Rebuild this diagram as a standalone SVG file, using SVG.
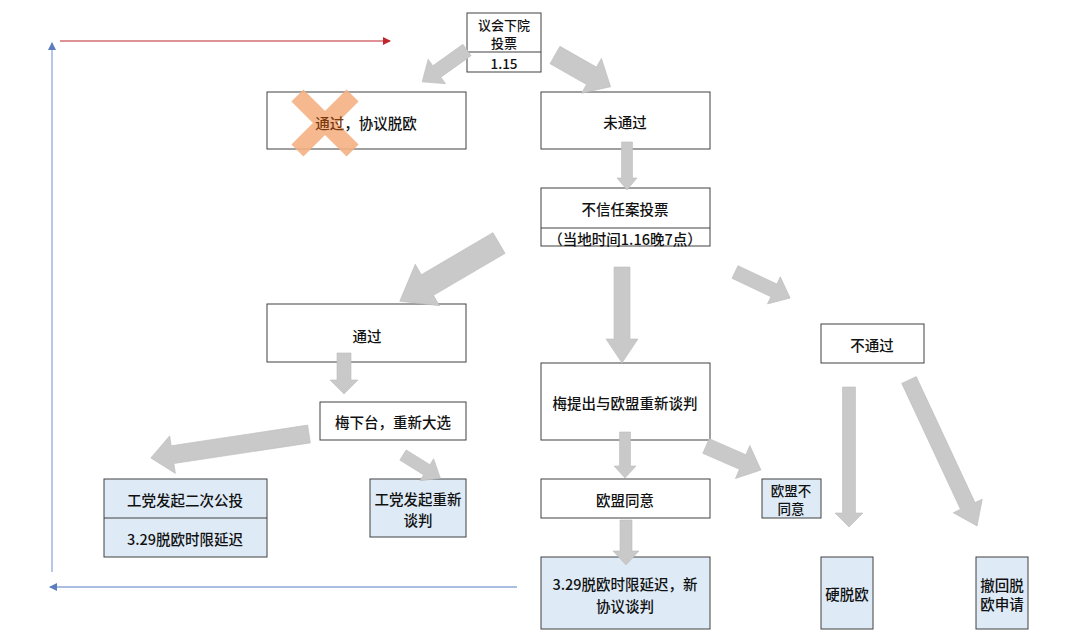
<svg xmlns="http://www.w3.org/2000/svg" width="1080" height="643" viewBox="0 0 1080 643">
<style>
.box{fill:#ffffff;stroke:#404040;stroke-width:1}
.blue{fill:#DEEBF7;stroke:#404040;stroke-width:1}
.div{stroke:#404040;stroke-width:1}
text{font-family:"Noto Sans CJK SC","Liberation Sans",sans-serif;font-size:14.5px;font-weight:500;fill:#111;text-anchor:middle;dominant-baseline:central}
text.sm{font-size:13.5px}
text.xs{font-size:13px}
.ba polygon{fill:#C9C9C9;stroke:#BDBDBD;stroke-width:0.6}
</style>
<defs>
<marker id="mRed" markerWidth="8" markerHeight="8" refX="7" refY="4" orient="auto" markerUnits="userSpaceOnUse">
<path d="M0,0 L8,4 L0,8 Z" fill="#C0272D"/>
</marker>
<marker id="mBlue" markerWidth="8" markerHeight="8" refX="7" refY="4" orient="auto" markerUnits="userSpaceOnUse">
<path d="M0,0 L8,4 L0,8 Z" fill="#5A7DBE"/>
</marker>
</defs>
<rect width="1080" height="643" fill="#ffffff"/>

<g id="lines">
<line x1="60" y1="41" x2="390" y2="41" stroke="#C0272D" stroke-width="1.2" marker-end="url(#mRed)"/>
<line x1="52" y1="572" x2="52" y2="43" stroke="#8EA9DB" stroke-width="1.3" marker-end="url(#mBlue)"/>
<line x1="517" y1="587" x2="50" y2="587" stroke="#8EA9DB" stroke-width="1.3" marker-end="url(#mBlue)"/>
</g>

<g id="n-vote">
<rect class="box" x="467" y="13" width="74" height="59"/>
<line class="div" x1="467" y1="52" x2="541" y2="52"/>
<text class="xs" x="504" y="24.5">议会下院</text>
<text class="xs" x="504" y="42">投票</text>
<text class="sm" x="504" y="62.5">1.15</text>
</g>

<g id="n-pass-deal">
<rect class="box" x="267" y="92" width="199" height="57"/>
<g fill="#F4B183" opacity="0.9">
<rect x="286" y="114.5" width="78" height="17" transform="rotate(45 325 123)"/>
<rect x="286" y="114.5" width="78" height="17" transform="rotate(-45 325 123)"/>
</g>
<text x="366" y="122"><tspan fill="#7A3A10">通过</tspan>，协议脱欧</text>
</g>

<g id="n-fail">
<rect class="box" x="541" y="92" width="169" height="57"/>
<text x="625" y="121">未通过</text>
</g>

<g id="n-noconf">
<rect class="box" x="541" y="188" width="169" height="58"/>
<line class="div" x1="541" y1="228" x2="710" y2="228"/>
<text x="625" y="208">不信任案投票</text>
<text x="625" y="238">（当地时间1.16晚7点）</text>
</g>

<g id="n-pass2">
<rect class="box" x="267" y="304" width="199" height="58"/>
<text x="367" y="335">通过</text>
</g>

<g id="n-resign">
<rect class="box" x="320" y="402" width="146" height="38"/>
<text x="393" y="421">梅下台，重新大选</text>
</g>

<g id="n-labour-ref">
<rect class="blue" x="104" y="479" width="163" height="78"/>
<line class="div" x1="104" y1="518" x2="267" y2="518"/>
<text x="185" y="499">工党发起二次公投</text>
<text x="185" y="538">3.29脱欧时限延迟</text>
</g>

<g id="n-labour-neg">
<rect class="blue" x="370" y="479" width="96" height="58"/>
<text x="418" y="498">工党发起重新</text>
<text x="418" y="519">谈判</text>
</g>

<g id="n-renego">
<rect class="box" x="541" y="363" width="169" height="77"/>
<text x="625" y="402">梅提出与欧盟重新谈判</text>
</g>

<g id="n-eu-agree">
<rect class="box" x="541" y="479" width="169" height="39"/>
<text x="625" y="499">欧盟同意</text>
</g>

<g id="n-delay">
<rect class="blue" x="541" y="557" width="169" height="72"/>
<text x="625" y="583">3.29脱欧时限延迟，新</text>
<text x="625" y="605">协议谈判</text>
</g>

<g id="n-eu-disagree">
<rect class="blue" x="762" y="479" width="59" height="39"/>
<text class="sm" x="791" y="490">欧盟不</text>
<text class="sm" x="791" y="508">同意</text>
</g>

<g id="n-notpass">
<rect class="box" x="821" y="324" width="103" height="39"/>
<text x="872" y="344">不通过</text>
</g>

<g id="n-hard">
<rect class="blue" x="821" y="557" width="52" height="72"/>
<text x="847" y="593">硬脱欧</text>
</g>

<g id="n-revoke">
<rect class="blue" x="976" y="557" width="52" height="72"/>
<text x="1002" y="584">撤回脱</text>
<text x="1002" y="603">欧申请</text>
</g>

<g id="connectors" class="ba">
<g transform="translate(467,50) rotate(144.6)"><polygon points="0,-7 37,-7 37,-15 55,0 37,15 37,7 0,7"/></g>
<g transform="translate(555,55) rotate(29.7)"><polygon points="0,-10 42,-10 42,-20 64,0 42,20 42,10 0,10"/></g>
<g transform="translate(627,142) rotate(90)"><polygon points="0,-5.5 36,-5.5 36,-10 48,0 36,10 36,5.5 0,5.5"/></g>
<g transform="translate(499,243) rotate(149.6)"><polygon points="0,-12 83,-12 83,-24 115,0 83,24 83,12 0,12"/></g>
<g transform="translate(622,267) rotate(90)"><polygon points="0,-8 72,-8 72,-16 96,0 72,16 72,8 0,8"/></g>
<g transform="translate(735,272) rotate(25.3)"><polygon points="0,-7 43,-7 43,-15 61,0 43,15 43,7 0,7"/></g>
<g transform="translate(344,353) rotate(90)"><polygon points="0,-7 27,-7 27,-14 41,0 27,14 27,7 0,7"/></g>
<g transform="translate(309,434) rotate(171.4)"><polygon points="0,-9 138,-9 138,-19 160,0 138,19 138,9 0,9"/></g>
<g transform="translate(403,455) rotate(31.9)"><polygon points="0,-6 28,-6 28,-13 44,0 28,13 28,6 0,6"/></g>
<g transform="translate(625,432) rotate(90)"><polygon points="0,-5.5 34,-5.5 34,-11 46,0 34,11 34,5.5 0,5.5"/></g>
<g transform="translate(706,446) rotate(23.6)"><polygon points="0,-8 40,-8 40,-18 60,0 40,18 40,8 0,8"/></g>
<g transform="translate(626,520) rotate(90)"><polygon points="0,-6 31,-6 31,-13 45,0 31,13 31,6 0,6"/></g>
<g transform="translate(849,387) rotate(90)"><polygon points="0,-6.5 126,-6.5 126,-14 140,0 126,14 126,6.5 0,6.5"/></g>
<g transform="translate(909,380) rotate(65)"><polygon points="0,-8 139,-8 139,-16 161,0 139,16 139,8 0,8"/></g>
</g>
</svg>
